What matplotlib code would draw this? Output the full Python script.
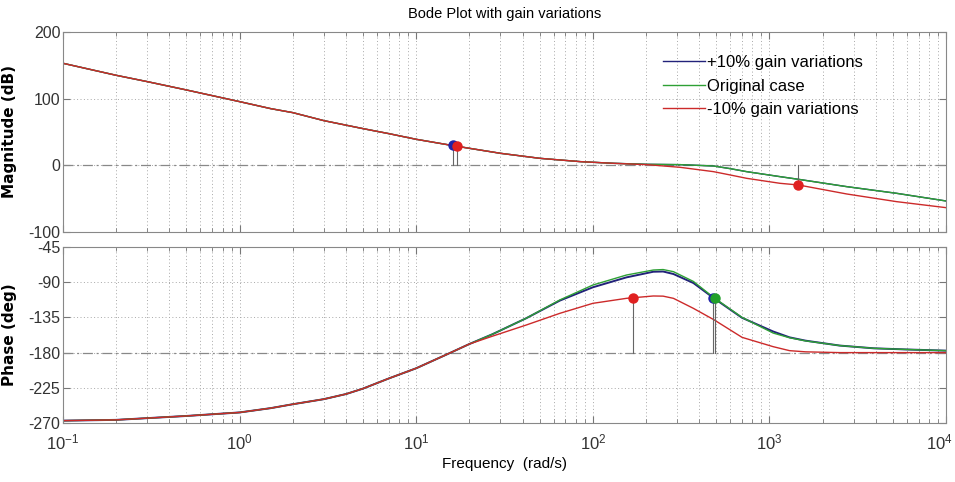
import matplotlib
matplotlib.use("Agg")
import matplotlib.pyplot as plt
from matplotlib.ticker import LogLocator, LogFormatterSciNotation, NullFormatter, FuncFormatter

# values
mag_freq = [0.1, 0.2, 0.3, 0.5, 0.7, 1, 1.5, 2, 3, 5, 7, 10, 16.6, 20, 30, 50,
            85, 131, 202, 312, 482, 600, 743, 1148, 1460, 2740, 5250, 10000]
mag_orig = [153, 135, 125.5, 113, 104.5, 95.5, 85, 79, 67, 55, 47.5, 39, 29, 25.5,
            18, 10.5, 5.5, 3, 1.5, 1, -1, -5, -9.5, -17, -21, -32, -42, -53.5]
mag_plus = mag_orig
mag_minus = [153, 135, 125.5, 113, 104.5, 95.5, 85, 79, 67, 55, 47.5, 39, 29, 25.5,
             18, 10.5, 5.5, 3, 1, -3, -9.5, -14.5, -19.5, -27, -29.5, -43, -54.5, -63.5]

ph_freq = [0.1, 0.2, 0.5, 1, 1.5, 2, 3, 4, 5, 7, 10, 15, 20, 27, 42, 65, 100,
           155, 220, 250, 286, 371, 485, 700, 1050, 1300, 1600, 2500, 3900, 6000, 10000]
ph_orig = [-267, -266, -261, -256.5, -251, -246, -239.5, -233, -226, -213, -200,
           -182, -169, -156.5, -136, -112.7, -93.6, -80.8, -74.4, -73.8, -76.5,
           -89, -109.8, -135, -155, -161, -165, -171, -174.5, -176, -177.5]
ph_plus = [-267, -266, -261, -256.5, -251, -246, -239.5, -233, -226, -213, -200,
           -182, -169, -156.5, -136, -113.5, -96.5, -83.8, -76.6, -76.3, -79.5,
           -91, -110.5, -135.5, -153, -160.5, -164.7, -171, -174.5, -176, -177.5]
ph_minus = [-267, -266, -261, -256.5, -251, -246, -239.5, -233, -226, -213, -200,
            -182, -169, -159, -144.7, -129.8, -117, -110.6, -107.6, -107.8, -110.6,
            -123.4, -138, -160.5, -172.4, -177.5, -179, -180, -180, -180, -180]

# margin markers (freq, value, colour)
mag_marks = [(16.2, 30, "#1f22a8"), (17.0, 29, "#e02020"), (1460, -29, "#e02020")]
ph_marks = [(169, -109.8, "#e02020"), (480, -109.8, "#1f22a8"), (489, -109.8, "#22a02a")]

c_plus = "#22227a"
c_orig = "#2ea035"
c_minus = "#cc2a2a"

plt.rcParams["font.family"] = ["Liberation Sans", "DejaVu Sans"]
plt.rcParams["axes.unicode_minus"] = False
plt.rcParams["mathtext.fontset"] = "custom"
plt.rcParams["mathtext.rm"] = "Liberation Sans"

fig = plt.figure(figsize=(9.55, 4.82), dpi=100)
ax1 = fig.add_axes([0.066, 0.5187, 0.9246, 0.415])
ax2 = fig.add_axes([0.066, 0.1224, 0.9246, 0.3651])


def style(ax):
    ax.set_xscale("log")
    ax.set_xlim(0.1, 1e4)
    ax.xaxis.set_major_locator(LogLocator(base=10))
    ax.xaxis.set_minor_locator(LogLocator(base=10, subs=range(2, 10)))
    ax.xaxis.set_minor_formatter(NullFormatter())
    ax.grid(True, which="both", axis="x", color="#a8a8a8", linestyle=(0, (1, 2.5)), lw=0.7)
    ax.grid(True, which="major", axis="y", color="#a8a8a8", linestyle=(0, (1, 2.5)), lw=0.7)
    ax.tick_params(which="both", direction="in", top=True, right=True,
                   colors="#777777", labelcolor="#333333", labelsize=11.5, pad=2)
    ax.tick_params(which="major", length=5)
    ax.tick_params(which="minor", length=3)
    for s in ax.spines.values():
        s.set_color("#888888")
    ax.set_axisbelow(True)


style(ax1)
style(ax2)

ax1.axhline(0, color="#888888", lw=0.9, linestyle=(0, (8, 3, 1.5, 3)), zorder=1)
ax1.plot(mag_freq, mag_plus, color=c_plus, lw=1.0, label="+10% gain variations")
ax1.plot(mag_freq, mag_orig, color=c_orig, lw=1.0, label="Original case")
ax1.plot(mag_freq, mag_minus, color=c_minus, lw=1.0, label="-10% gain variations")
for f, v, c in mag_marks:
    ax1.plot([f, f], [0, v], color="#666666", lw=0.8, zorder=2)
    ax1.plot(f, v, "o", color=c, ms=6.5, zorder=5)
ax1.set_ylim(-100, 200)
ax1.set_yticks([-100, 0, 100, 200])
ax1.xaxis.set_major_formatter(NullFormatter())
ax1.set_ylabel("Magnitude (dB)", fontsize=11, fontweight="bold", family="DejaVu Sans")
ax1.yaxis.set_label_coords(-0.052, 0.5)
ax1.set_title("Bode Plot with gain variations", fontsize=10.5, pad=10)
ax1.legend(loc="upper left", bbox_to_anchor=(0.67, 0.925), frameon=False, fontsize=12,
           handlelength=2.5, handletextpad=0.15, labelspacing=0.5, borderpad=0)

ax2.axhline(-180, color="#888888", lw=0.9, linestyle=(0, (8, 3, 1.5, 3)), zorder=1)
ax2.plot(ph_freq, ph_plus, color=c_plus, lw=1.4)
ax2.plot(ph_freq, ph_orig, color=c_orig, lw=1.0)
ax2.plot(ph_freq, ph_minus, color=c_minus, lw=1.0)
for f, v, c in ph_marks:
    ax2.plot([f, f], [-180, v], color="#666666", lw=0.8, zorder=2)
    ax2.plot(f, v, "o", color=c, ms=6.5, zorder=5)
ax2.set_ylim(-270, -45)
ax2.set_yticks([-270, -225, -180, -135, -90, -45])

# last decade label is placed by hand, nudged left so it stays on the canvas
sci = LogFormatterSciNotation()
xmax = ax2.get_xlim()[1]
ax2.xaxis.set_major_formatter(FuncFormatter(lambda v, p: "" if v >= xmax else sci(v, p)))
ax2.tick_params(axis="x", labelsize=12, pad=7)
ax2.annotate(sci(xmax), xy=(xmax, 0), xycoords=("data", "axes fraction"),
             xytext=(-5, -7), textcoords="offset points", ha="center", va="top",
             fontsize=12, color="#333333")
ax2.set_ylabel("Phase (deg)", fontsize=11, fontweight="bold", family="DejaVu Sans")
ax2.yaxis.set_label_coords(-0.052, 0.5)
ax2.set_xlabel("Frequency  (rad/s)", fontsize=11, labelpad=3)

fig.savefig("out.png", dpi=100)
